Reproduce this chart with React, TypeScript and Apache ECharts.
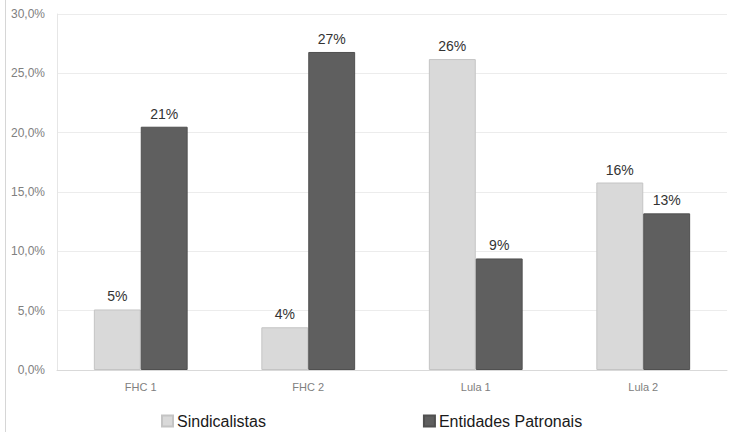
import React, { useEffect, useRef } from "react";
import * as echarts from "echarts";

const categories = ["FHC 1", "FHC 2", "Lula 1", "Lula 2"];
const sindicalistas = [5.1, 3.6, 26.2, 15.8];
const entidadesPatronais = [20.5, 26.8, 9.4, 13.2];
const yTicks = { min: 0, max: 30, interval: 5 };

const FONT = "'Liberation Sans', Arial, sans-serif";

export default function App() {
  const ref = useRef<HTMLDivElement>(null);

  useEffect(() => {
    if (!ref.current) return;
    const chart = echarts.init(ref.current, null, { renderer: "svg" });
    const barLabel = {
      show: true,
      position: "top" as const,
      distance: 6,
      color: "#333333",
      fontFamily: FONT,
      fontSize: 14,
      fontWeight: "normal" as const,
      formatter: (p: any) => `${Math.round(p.value)}%`,
    };
    chart.setOption({
      animation: false,
      backgroundColor: "#ffffff",
      textStyle: { fontFamily: FONT },
      grid: { left: 57, right: 2, top: 14, bottom: 62, containLabel: false },
      legend: {
        left: 161,
        top: 413,
        padding: 0,
        itemWidth: 11,
        itemHeight: 11,
        itemGap: 157,
        icon: "rect",
        textStyle: { fontFamily: FONT, fontSize: 16, color: "#1a1a1a", padding: [0, 0, 0, -1] },
        data: ["Sindicalistas", "Entidades Patronais"],
      },
      xAxis: {
        type: "category",
        data: categories,
        axisLine: { show: true, lineStyle: { color: "#d9d9d9" } },
        axisTick: { show: false },
        axisLabel: { color: "#808080", fontSize: 11, margin: 11, fontFamily: FONT },
      },
      yAxis: {
        type: "value",
        min: yTicks.min,
        max: yTicks.max,
        interval: yTicks.interval,
        axisLine: { show: true, lineStyle: { color: "#e6e6e6" } },
        axisTick: { show: false },
        splitLine: { lineStyle: { color: "#ececec", width: 1 } },
        axisLabel: {
          color: "#808080",
          fontSize: 12,
          margin: 12,
          fontFamily: FONT,
          formatter: (v: number) => `${v.toFixed(1).replace(".", ",")}%`,
        },
      },
      series: [
        {
          name: "Sindicalistas",
          type: "bar",
          data: sindicalistas,
          barGap: "0%",
          barCategoryGap: "44%",
          itemStyle: { color: "#d9d9d9", borderColor: "#c4c4c4", borderWidth: 1 },
          label: barLabel,
        },
        {
          name: "Entidades Patronais",
          type: "bar",
          data: entidadesPatronais,
          barGap: "0%",
          barCategoryGap: "44%",
          itemStyle: { color: "#5f5f5f", borderColor: "#505050", borderWidth: 1 },
          label: barLabel,
        },
      ],
      graphic: [
        {
          type: "line",
          shape: { x1: 5.5, y1: 0, x2: 5.5, y2: 432 },
          style: { stroke: "#d6d6d6", lineWidth: 1 },
          silent: true,
        },
      ],
    });
    return () => chart.dispose();
  }, []);

  return (
    <div
      ref={ref}
      style={{ width: 729, height: 432, position: "fixed", left: 0, top: 0 }}
    />
  );
}
